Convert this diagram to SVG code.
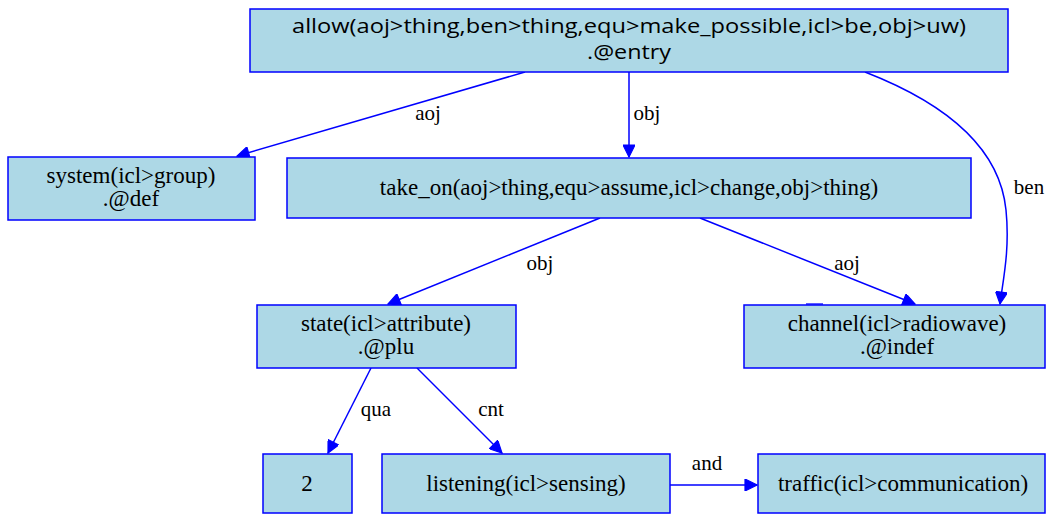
<svg xmlns="http://www.w3.org/2000/svg" width="1046" height="514" viewBox="0 0 1046 514">
<defs>
<style>
.n{fill:#add8e6;stroke:#0000ff;stroke-width:1.5}
.t{font-family:"Liberation Serif","Times New Roman",serif;font-size:23px;fill:#000;text-anchor:middle}
.h{font-family:"Open Sans","Noto Sans",sans-serif;font-size:19.5px;fill:#000;text-anchor:middle}
.e{fill:none;stroke:#0000ff;stroke-width:1.5}
.l{font-family:"Liberation Serif","Times New Roman",serif;font-size:21px;fill:#000;text-anchor:middle}
</style>
<marker id="a" viewBox="0 0 10 10" refX="10" refY="5" markerWidth="14" markerHeight="12" markerUnits="userSpaceOnUse" orient="auto"><path d="M0,0L10,5L0,10z" fill="#0000ff" stroke="#0000ff"/></marker>
</defs>
<rect width="1046" height="514" fill="#fff"/>
<g id="edges">
<path class="e" d="M525,72L237,156" marker-end="url(#a)"/>
<path class="e" d="M629,72L629,157" marker-end="url(#a)"/>
<path class="e" d="M865,72C950,105 1000,150 1006,210C1010,250 1003,280 1000,304" marker-end="url(#a)"/>
<path class="e" d="M600,218L388,304" marker-end="url(#a)"/>
<path class="e" d="M700,218L915,304" marker-end="url(#a)"/>
<path class="e" d="M371,368L328,453" marker-end="url(#a)"/>
<path class="e" d="M417,368L502,453" marker-end="url(#a)"/>
<path class="e" d="M670,485L757,485" marker-end="url(#a)"/>
<line x1="806" y1="304" x2="823" y2="304" stroke="#0000ff" stroke-width="1.3"/>
<text class="l" x="428" y="120">aoj</text>
<text class="l" x="647" y="120">obj</text>
<text class="l" x="1029" y="194">ben</text>
<text class="l" x="540" y="270">obj</text>
<text class="l" x="847" y="270">aoj</text>
<text class="l" x="376" y="416">qua</text>
<text class="l" x="491" y="416">cnt</text>
<text class="l" x="707" y="470">and</text>
</g>
<g id="n_allow"><rect class="n" x="250" y="9" width="758" height="63"/><text class="h" x="629" y="32.5" textLength="674" lengthAdjust="spacingAndGlyphs">allow(aoj&gt;thing,ben&gt;thing,equ&gt;make_possible,icl&gt;be,obj&gt;uw)</text><text class="h" x="629" y="59" textLength="84" lengthAdjust="spacingAndGlyphs">.@entry</text></g>
<g id="n_system"><rect class="n" x="8" y="157" width="247" height="63"/><text class="t" x="131" y="183">system(icl&gt;group)</text><text class="t" x="131" y="206">.@def</text></g>
<g id="n_take_on"><rect class="n" x="287" y="158" width="684" height="60"/><text class="t" x="629" y="195">take_on(aoj&gt;thing,equ&gt;assume,icl&gt;change,obj&gt;thing)</text></g>
<g id="n_state"><rect class="n" x="257" y="305" width="259" height="63"/><text class="t" x="386" y="331">state(icl&gt;attribute)</text><text class="t" x="386" y="354">.@plu</text></g>
<g id="n_channel"><rect class="n" x="744" y="305" width="301" height="63"/><text class="t" x="897" y="331">channel(icl&gt;radiowave)</text><text class="t" x="897" y="354">.@indef</text></g>
<g id="n_2"><rect class="n" x="263" y="454" width="89" height="59"/><text class="t" x="307" y="491">2</text></g>
<g id="n_listening"><rect class="n" x="382" y="454" width="288" height="59"/><text class="t" x="526" y="491">listening(icl&gt;sensing)</text></g>
<g id="n_traffic"><rect class="n" x="758" y="454" width="287" height="59"/><text class="t" x="903" y="491">traffic(icl&gt;communication)</text></g>
</svg>
